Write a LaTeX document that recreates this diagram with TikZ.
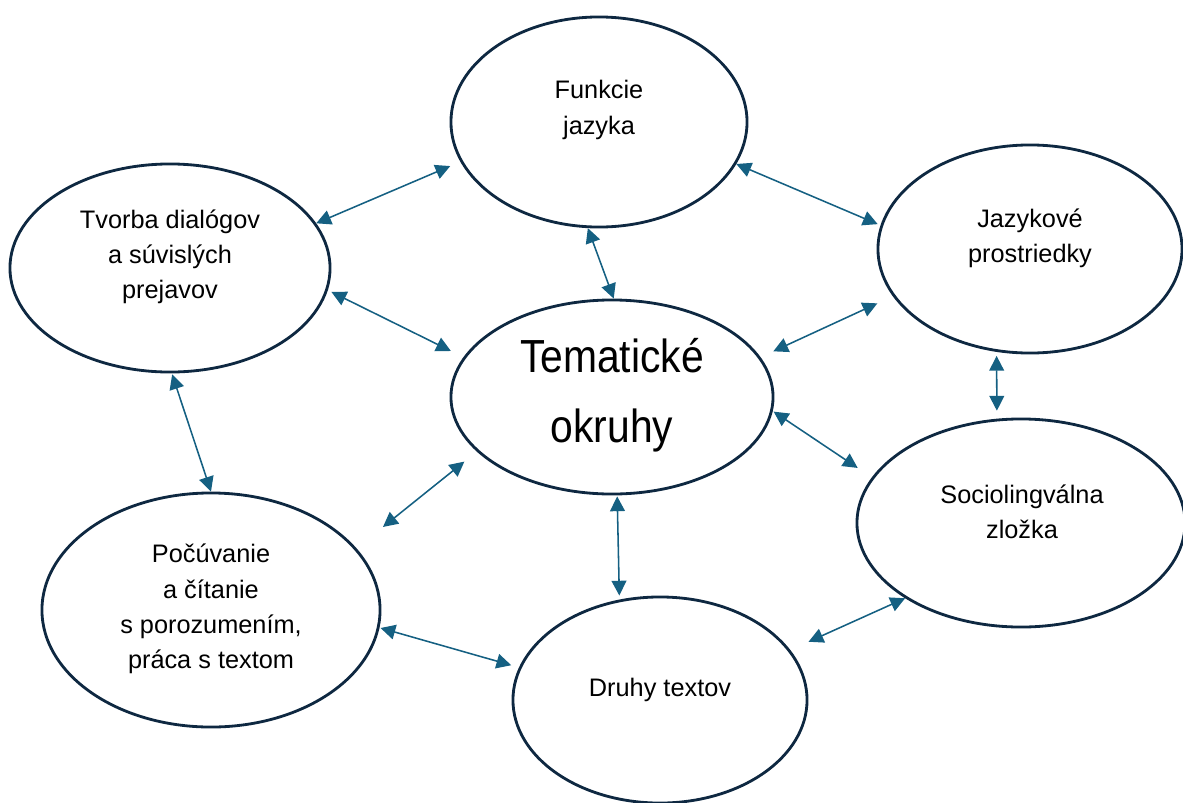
\documentclass[tikz,border=0pt]{standalone}
\usepackage{fontspec}
\setmainfont{Liberation Sans}
\newfontfamily\narrowfont[FakeStretch=0.88]{Liberation Sans}
\usetikzlibrary{shapes.geometric,arrows.meta}
\definecolor{rimblue}{HTML}{0E2841}
\definecolor{arrowblue}{HTML}{156082}
\tikzset{
  bubble/.style n args={2}{ellipse,draw=rimblue,line width=2pt,inner sep=0pt,
    minimum width=#1*0.05cm,minimum height=#2*0.05cm},
  bubtext/.style={align=center,text=black,font=\fontsize{18}{25}\selectfont},
  link/.style={arrowblue,line width=1.1pt,
    {Triangle[length=10.5pt,width=10.5pt]}-{Triangle[length=10.5pt,width=10.5pt]}}
}

\begin{document}
\begin{tikzpicture}[x=0.025cm,y=-0.025cm]
      \useasboundingbox (0,0) rectangle (1183,802);
      \node[bubble={148}{105}] (fun) at (599,122) {};
      \node[bubble={160}{104}] (tvo) at (170,268) {};
      \node[bubble={152}{104}] (jaz) at (1030,249) {};
      \node[bubble={161}{97}] (tem) at (612,397) {};
      \node[bubble={164}{104}] (soc) at (1021,523) {};
      \node[bubble={169}{117}] (poc) at (211,610) {};
      \node[bubble={147}{103}] (dru) at (660,700) {};
      \node[bubtext] (funtxt) at (599,110) {Funkcie\\jazyka};
      \node[bubtext] (tvotxt) at (170,257) {Tvorba dialógov\\a súvislých\\prejavov};
      \node[bubtext] (jaztxt) at (1030,238) {Jazykové\\prostriedky};
      \node[bubtext,font=\narrowfont\fontsize{33}{50}\selectfont] (temtxt) at (612,395) {Tematické\\okruhy};
      \node[bubtext] (soctxt) at (1022,512) {Sociolingválna\\zložka};
      \node[bubtext] (poctxt) at (211,609) {Počúvanie\\a čítanie\\s porozumením,\\práca s textom};
      \node[bubtext] (drutxt) at (660,690) {Druhy textov};
      \foreach \a/\b/\ga/\gb in {tvo.17/fun.196/0/11, fun.343/jaz.171/0/3,
        fun.264/tem.89/0/0, tvo.352/tem.165/4/14, tem.15/jaz.199/14/17,
        jaz.252/soc.103/4/8, tvo.271/poc.90/1/0, tem.355/soc.163/1/17,
        tem.202/poc.23/16/34, tem.273/dru.112/1/4, poc.354/dru.167/1/8,
        dru.21/soc.213/20/0}
      \draw[link,shorten <=\ga*0.025cm,shorten >=\gb*0.025cm] (\a) -- (\b);
    \end{tikzpicture}
\end{document}
